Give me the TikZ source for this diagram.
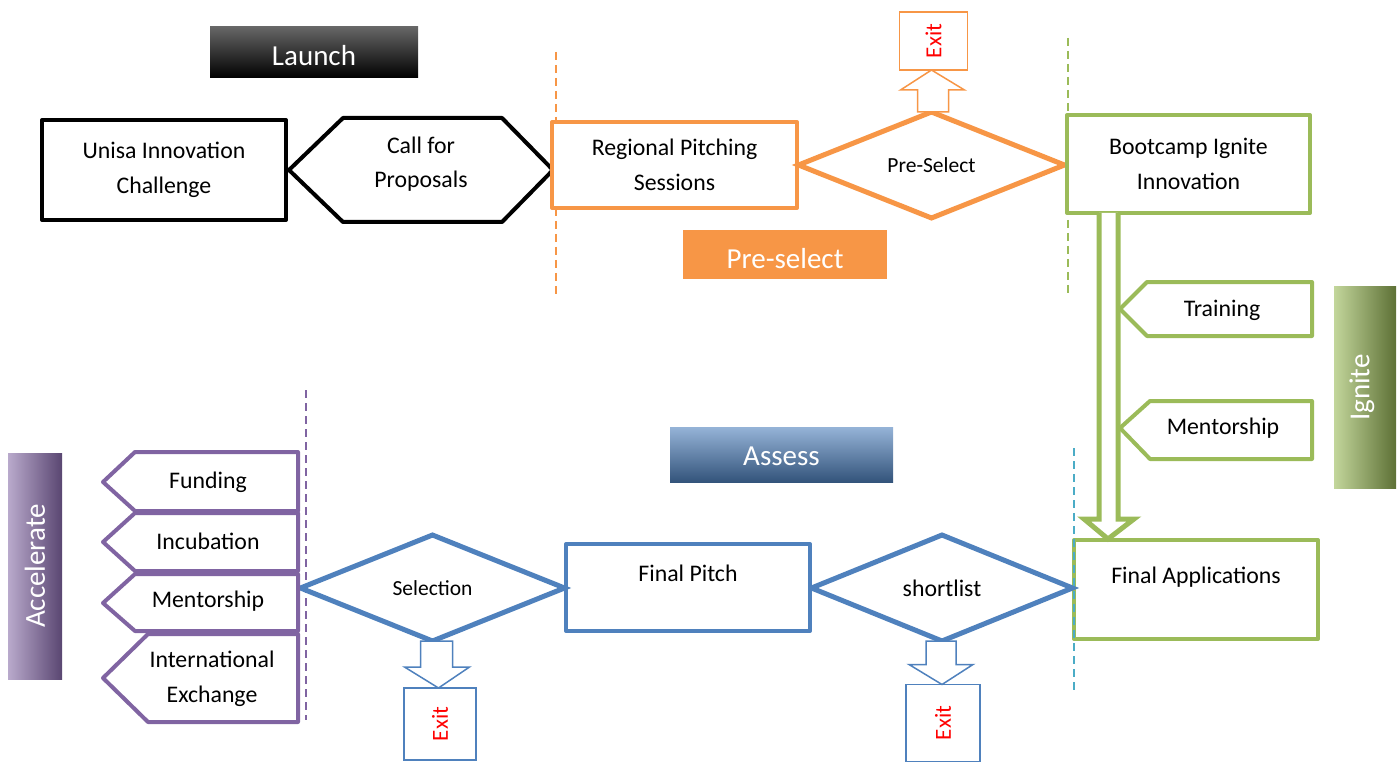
\documentclass[tikz,border=0pt]{standalone}
\usepackage{fontspec}
\setmainfont{Carlito}
\usetikzlibrary{shapes.geometric,calc}
\definecolor{cOr}{HTML}{F79646}
\definecolor{cGr}{HTML}{9BBB59}
\definecolor{cBl}{HTML}{4F81BD}
\definecolor{cPu}{HTML}{8064A2}
\definecolor{cCy}{HTML}{4BACC6}
\definecolor{exitred}{HTML}{FF0000}
\begin{document}
\begin{tikzpicture}[x=1pt,y=-1pt,
  txt/.style={font=\fontsize{23.8}{34.5}\selectfont, align=center, inner sep=0pt, text=black},
  smalltxt/.style={font=\fontsize{21.5}{30}\selectfont, align=center, inner sep=0pt, text=black},
  lbltxt/.style={font=\fontsize{29}{34}\selectfont, inner sep=0pt, text=white},
  procbox/.style={rectangle, draw=#1, line width=4pt, line join=round, fill=white, outer sep=0pt, txt},
  decision/.style={diamond, aspect=3, draw=#1, line width=5pt, line join=miter, fill=white, outer sep=0pt, inner sep=0pt, smalltxt},
  tagshape/.style={draw=#1, line width=4pt, line join=round, fill=white},
  exitbox/.style={rectangle, draw=#1, line width=1.5pt, fill=white, outer sep=0pt, rotate=90, inner sep=0pt,
                  font=\fontsize{23}{28}\selectfont, text=exitred},
  blockarrow/.style={draw=#1, line width=1.5pt, fill=white, line join=miter},
  phase/.style={draw=#1, line width=2pt, dash pattern=on 8pt off 5pt},
  lblbox/.style={rectangle, draw=none, outer sep=0pt, inner sep=0pt}
]
\useasboundingbox (0,0) rectangle (1398,762);

% ---------- phase separators (behind the shapes) ----------
\coordinate (oTop) at (555.5,52);  \coordinate (oBot) at (555.5,295);
\coordinate (gTop) at (1068,38);   \coordinate (gBot) at (1068,297);
\coordinate (bTop) at (1073.5,448);\coordinate (bBot) at (1073.5,694);
\coordinate (pTop) at (306,390);   \coordinate (pBot) at (306,720);
\draw[phase=cOr] (oTop) -- (oBot);
\draw[phase=cGr] (gTop) -- (gBot);
\draw[phase=cPu] (pTop) -- (pBot);

% ---------- phase labels ----------
\node[lblbox, minimum width=208, minimum height=51, top color=black!60, middle color=black, bottom color=black] (launchL) at (314,52.5) {};
\node[lbltxt] at ([yshift=-3pt]launchL.center) {Launch};
\node[lblbox, minimum width=204, minimum height=49, fill=cOr] (preL) at (785,254.5) {};
\node[lbltxt] at ([yshift=-4pt]preL.center) {Pre-select};
\node[lblbox, minimum width=62, minimum height=202, left color=cGr!60, middle color=cGr, right color=cGr!60!black] (ignL) at (1365,387.5) {};
\node[lbltxt, rotate=90] at ([xshift=-3pt]ignL.center) {Ignite};
\node[lblbox, minimum width=223, minimum height=55, top color=cBl!60, middle color=cBl, bottom color=cBl!65!black] (assL) at (781.5,454.5) {};
\node[lbltxt] at ([yshift=-2pt]assL.center) {Assess};
\node[lblbox, minimum width=54, minimum height=226, left color=cPu!55, middle color=cPu, right color=cPu!70!black] (accL) at (35,566) {};
\node[lbltxt, rotate=90] at (accL.center) {Accelerate};

% ---------- launch ----------
\node[procbox=black, minimum width=244, minimum height=100] (unisa) at (164,170) {Unisa Innovation\\Challenge};
\draw[tagshape=black] (289,170) -- (343,118) -- (502,118) -- (553,170) -- (502,222) -- (343,222) -- cycle;
\node[txt] (call) at (421,164) {Call for\\Proposals};

% ---------- pre-select ----------
\node[procbox=cOr, minimum width=245, minimum height=86] (regional) at (674.5,165) {Regional Pitching\\Sessions};
\node[decision=cOr, minimum width=266, minimum height=106] (psel) at (931.5,165) {Pre-Select};
\node[exitbox=cOr, minimum width=58, minimum height=68] (exitA) at (933.5,41) {Exit};
\draw[blockarrow=cOr] let \p1=(psel.north), \p2=(exitA.west) in
  (\x1-14pt,\y1) -- (\x1-14pt,\y2-20pt) -- (\x1-31pt,\y2-20pt) -- (\x1,\y2) --
  (\x1+33pt,\y2-20pt) -- (\x1+17pt,\y2-20pt) -- (\x1+17pt,\y1) -- cycle;

% ---------- ignite ----------
\node[procbox=cGr, minimum width=243, minimum height=98] (boot) at (1188.5,164) {Bootcamp Ignite\\Innovation};
\node[procbox=cGr, minimum width=244, minimum height=99] (fapp) at (1196,589.5) {Final Applications\\[-6pt]~};
\draw[draw=cGr, line width=5pt, fill=white, line join=miter] let \p1=(boot.south), \p2=(fapp.north west) in
  (\x2+25pt,\y1) -- (\x2+25pt,\y2+21pt) -- (\x2+10pt,\y2+21pt) -- (\x2+34pt,\y2+1pt) --
  (\x2+60pt,\y2+21pt) -- (\x2+44pt,\y2+21pt) -- (\x2+44pt,\y1);
\draw[tagshape=cGr] (1120,309) -- (1147,282) -- (1312,282) -- (1312,336) -- (1147,336) -- cycle;
\node[txt] (train) at (1222,310) {Training};
\draw[tagshape=cGr] (1120,428) -- (1150,401) -- (1312,401) -- (1312,459) -- (1150,459) -- cycle;
\node[txt] (mentI) at (1223,428) {Mentorship};

% ---------- assess ----------
\node[decision=cBl, minimum width=261, minimum height=106, font=\fontsize{23.8}{30}\selectfont] (short) at (942,588) {shortlist};
\node[procbox=cBl, minimum width=244, minimum height=87] (fpitch) at (688,587.5) {Final Pitch\\[-6pt]~};
\node[decision=cBl, minimum width=264, minimum height=106] (sel) at (432.5,588) {Selection};
\node[exitbox=cBl, minimum width=72, minimum height=72] (exitB) at (440,724) {Exit};
\node[exitbox=cBl, minimum width=77, minimum height=74] (exitC) at (943,723) {Exit};
\draw[blockarrow=cBl] let \p1=(sel.south), \p2=(exitB.east) in
  (\x1-12pt,\y1) -- (\x1-12pt,\y2+21pt) -- (\x1-28pt,\y2+21pt) -- (\x1+6pt,\y2) --
  (\x1+37pt,\y2+21pt) -- (\x1+20pt,\y2+21pt) -- (\x1+20pt,\y1) -- cycle;
\draw[blockarrow=cBl] let \p1=(short.south), \p2=(exitC.east) in
  (\x1-16pt,\y1) -- (\x1-16pt,\y2+20pt) -- (\x1-33pt,\y2+20pt) -- (\x1,\y2) --
  (\x1+31pt,\y2+20pt) -- (\x1+14pt,\y2+20pt) -- (\x1+14pt,\y1) -- cycle;

% ---------- accelerate ----------
\draw[tagshape=cPu] (103,482) -- (135,452) -- (298,452) -- (298,511) -- (135,511) -- cycle;
\node[txt] (fund) at (208,482) {Funding};
\draw[tagshape=cPu] (103,542) -- (135,513) -- (298,513) -- (298,571) -- (135,571) -- cycle;
\node[txt] (incub) at (208,541) {Incubation};
\draw[tagshape=cPu] (103,603) -- (135,574) -- (298,574) -- (298,631) -- (135,631) -- cycle;
\node[txt] (mentA) at (208,601) {Mentorship};
\draw[tagshape=cPu] (103,678) -- (148,634) -- (298,634) -- (298,722) -- (148,722) -- cycle;
\node[txt] (intl) at (212,679) {International\\Exchange};

% blue separator drawn over the Final Applications box edge
\draw[phase=cCy] (bTop) -- (bBot);
\end{tikzpicture}
\end{document}
